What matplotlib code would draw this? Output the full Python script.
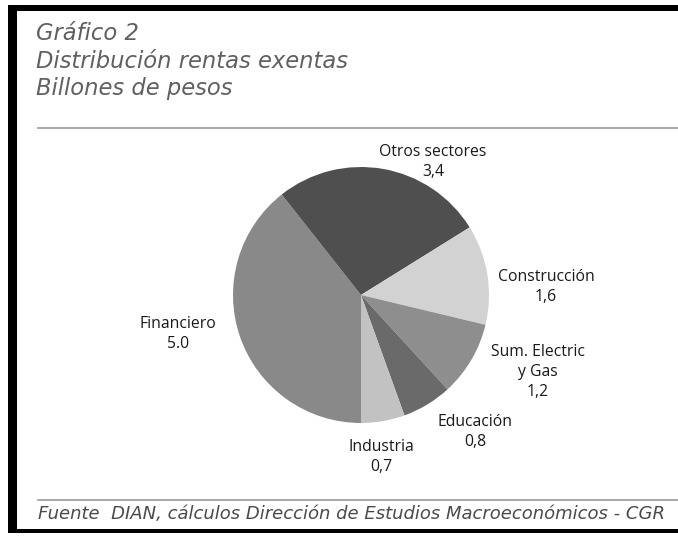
import matplotlib.pyplot as plt
from matplotlib.patches import Rectangle
from matplotlib.lines import Line2D

# Exempt income by sector (billions of pesos)
sectors = ["Financiero", "Otros sectores", "Construcción",
           "Sum. Electric\ny Gas", "Educación", "Industria"]
values = [5.0, 3.4, 1.6, 1.2, 0.8, 0.7]
decimal_sep = [".", ",", ",", ",", ",", ","]
colors = ["#898989", "#4f4f4f", "#d2d2d2", "#8e8e8e", "#6a6a6a", "#c2c2c2"]

# label centres in pixels (x, y from top)
label_pos = [(178, 334), (433, 162), (546, 287), (538, 372), (475, 432), (381, 457)]

W, H = 678, 543
fig = plt.figure(figsize=(W / 100, H / 100), dpi=100)


def px(x, y):
    return x / W, 1 - y / H


# pie axes: centre (361, 295), radius 128 px
cx, cy, r = 361, 295, 128
ax = fig.add_axes([(cx - r) / W, (H - cy - r) / H, 2 * r / W, 2 * r / H])
ax.pie(values, colors=colors, startangle=-90, counterclock=False,
       wedgeprops=dict(linewidth=0))
ax.set_xlim(-1, 1)
ax.set_ylim(-1, 1)
ax.set_aspect("equal")
ax.axis("off")

for name, v, sep, (x, y) in zip(sectors, values, decimal_sep, label_pos):
    num = f"{v:.1f}".replace(".", sep)
    fig.text(*px(x, y), f"{name}\n{num}", ha="center", va="center",
             fontsize=11.3, family="Open Sans", color="#1a1a1a", linespacing=1.3)

# titles
title_kw = dict(ha="left", va="center", fontsize=16.3, style="italic",
                family="DejaVu Sans", color="#606060")
fig.text(*px(36, 33), "Gráfico 2", **title_kw)
fig.text(*px(36, 61), "Distribución rentas exentas", **title_kw)
fig.text(*px(36, 89), "Billones de pesos", **title_kw)

fig.text(*px(38, 514), "Fuente  DIAN, cálculos Dirección de Estudios Macroeconómicos - CGR",
         ha="left", va="center", fontsize=13.0, style="italic",
         family="DejaVu Sans", color="#4a4a4a")

# separator rules
for y in (128, 500):
    fig.add_artist(Line2D([38 / W, 1], [1 - y / H] * 2, color="#9a9a9a", lw=1.2))

# frame
fig.add_artist(Rectangle(px(8, 530), 9 / W, (530 - 6) / H, color="black", lw=0))
fig.add_artist(Rectangle(px(8, 11), (W - 8) / W, 6 / H, color="black", lw=0))
fig.add_artist(Rectangle(px(8, 533), (W - 8) / W, 4 / H, color="black", lw=0))

fig.savefig("out.png", dpi=100)
